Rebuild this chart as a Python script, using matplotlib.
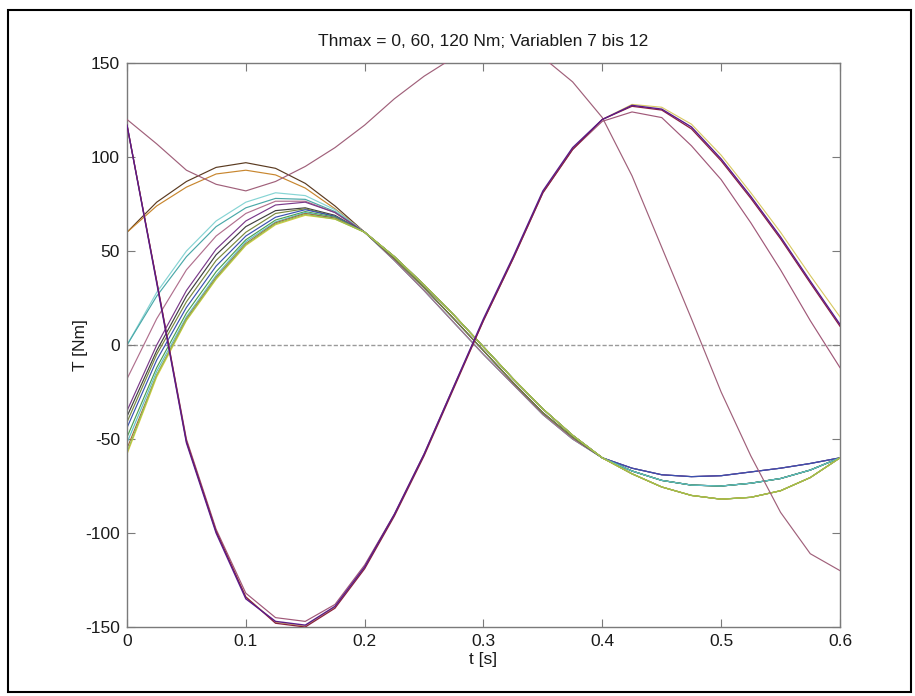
import matplotlib
matplotlib.use("Agg")
import matplotlib.pyplot as plt
from matplotlib.patches import Rectangle

plt.rcParams["font.family"] = ["Liberation Sans", "DejaVu Sans"]
plt.rcParams["axes.unicode_minus"] = False

# time grid [s]
t = [0.000, 0.025, 0.050, 0.075, 0.100, 0.125, 0.150, 0.175, 0.200,
     0.225, 0.250, 0.275, 0.300, 0.325, 0.350, 0.375, 0.400,
     0.425, 0.450, 0.475, 0.500, 0.525, 0.550, 0.575, 0.600]

# shared middle section 0.2 .. 0.4 s (three slightly different slopes)
mid_a = [60, 45, 29, 12, -5, -21, -37, -50, -60]
mid_b = [60, 46, 30.5, 14, -3, -20, -36, -49, -60]
mid_c = [60, 47, 32, 16, -1, -18, -34, -48, -60]

# end section 0.4 .. 0.6 s (three families)
end_u = [-60, -65.5, -69, -70, -69.5, -67.5, -65.5, -63, -60]
end_m = [-60, -67, -72, -74.5, -75, -73.5, -71, -66.5, -60]
end_l = [-60, -68.5, -75.5, -80, -82, -81, -77.5, -70.5, -60]

# start sections 0 .. 0.175 s of the torque curves [Nm]
start_cyan = [0, 28, 50, 66, 76, 81, 79.5, 72]
start_teal = [0, 26, 47, 63, 73, 78, 77.5, 71]
start_mauve = [-18, 14, 40, 58, 70, 76.5, 76.5, 70.5]
start_purple = [-35, 0, 29, 51, 66, 74.5, 76, 70.5]
start_black = [-38, -3, 26, 48, 63, 71.5, 73, 69]
start_olive = [-41, -5, 23, 45, 60, 70, 72.5, 68.5]
start_blue = [-44, -8, 20, 42, 58, 68, 72, 68.5]
start_green = [-49, -12, 17, 39, 56, 66.5, 71, 68]
start_cyan2 = [-52, -14, 15, 37, 55, 65.5, 70.5, 67.5]
start_brown = [-55, -16, 14, 36, 54, 65, 70, 67.5]
start_yellow = [-58, -17, 13, 35, 53, 64, 69, 67]
start_lime = [-57, -16, 13.5, 35.5, 53.5, 64.5, 69.5, 67]
start_orange_hi = [60, 76, 87, 94.5, 97, 94, 86, 74]
start_orange_lo = [60, 74, 84, 91, 93, 90.5, 83.5, 72.5]

# full curves
T_thmax120 = [120, 107, 93, 85.5, 82, 87, 95, 105, 117, 131, 143, 153, 159,
              160, 153, 140, 121, 90, 52, 14, -25, -59, -89, -111, -120]
T_swing_1 = [117, 33, -52, -100, -135, -147, -149, -139, -118, -90, -58, -22,
             14, 47, 82, 105, 120, 127.5, 125.5, 116, 99, 79, 57.5, 34, 11]
T_swing_2 = [117, 34, -51, -99, -134, -148, -150, -140, -119, -91, -59, -23,
             13, 46, 81, 104, 120, 127, 125, 115, 98, 78, 56.5, 33, 10]
T_swing_3 = [117, 33.5, -51.5, -99.5, -134, -147.5, -149.5, -139.5, -118.5,
             -90.5, -58.5, -22.5, 13.5, 46.5, 81.5, 104.5, 120, 128, 126.5,
             117.5, 101, 81, 60, 37, 15]
T_swing_4 = [117, 34, -50, -98, -132, -145, -147, -138, -117, -90, -58, -22,
             13, 46, 81, 104, 119, 124, 121, 106, 88, 65, 40, 13, -12]

bundle = [
    (start_orange_hi, mid_c, end_m, "#5a3a20"),
    (start_orange_lo, mid_c, end_l, "#c8862e"),
    (start_cyan, mid_a, end_u, "#86d4d4"),
    (start_teal, mid_a, end_m, "#4aa8a8"),
    (start_mauve, mid_a, end_u, "#b0708e"),
    (start_purple, mid_b, end_u, "#7a3a8a"),
    (start_black, mid_b, end_m, "#404040"),
    (start_olive, mid_b, end_l, "#7a8a40"),
    (start_blue, mid_c, end_u, "#3a50b0"),
    (start_green, mid_c, end_m, "#4aa050"),
    (start_cyan2, mid_c, end_m, "#60c0c8"),
    (start_brown, mid_c, end_l, "#a06a3a"),
    (start_yellow, mid_c, end_l, "#d8cc40"),
    (start_lime, mid_c, end_l, "#98c050"),
]

fig = plt.figure(figsize=(9.15, 6.96), dpi=100)
ax = fig.add_axes([0.1388, 0.0991, 0.7792, 0.8103])

ax.axhline(0, color="#9a9a9a", lw=1.0, ls=(0, (3, 1.5)), zorder=1)

for start, mid, end, col in bundle:
    ax.plot(t, start + mid + end[1:], color=col, lw=0.85, zorder=2)

ax.plot(t, T_thmax120, color="#a0607a", lw=0.85, zorder=3)
ax.plot(t, T_swing_4, color="#a05878", lw=0.85, zorder=3)
ax.plot(t, T_swing_3, color="#d8c860", lw=0.8, zorder=3)
ax.plot(t, T_swing_2, color="#8a2040", lw=0.9, zorder=3)
ax.plot(t, T_swing_1, color="#5a1a8a", lw=1.0, zorder=4)

ax.set_xlim(0, 0.6)
ax.set_ylim(-150, 150)
ax.set_xticks([0, 0.1, 0.2, 0.3, 0.4, 0.5, 0.6])
ax.set_xticklabels(["0", "0.1", "0.2", "0.3", "0.4", "0.5", "0.6"])
ax.set_yticks([-150, -100, -50, 0, 50, 100, 150])

for s in ax.spines.values():
    s.set_color("#7a7a7a")
    s.set_linewidth(1.0)
ax.tick_params(direction="in", length=6, width=0.8, color="#7a7a7a",
               top=True, right=True, labelsize=12.5, pad=5,
               labelcolor="#1a1a1a")

ax.set_xlabel("t [s]", fontsize=12.5, color="#1a1a1a", labelpad=2)
ax.set_ylabel("T [Nm]", fontsize=12.5, color="#1a1a1a", labelpad=-2)
ax.set_title("Thmax = 0, 60, 120 Nm; Variablen 7 bis 12", fontsize=12.5,
             color="#1a1a1a", pad=12)

# frame around the whole figure
fig.patches.append(Rectangle((8 / 915, 4 / 696), 903 / 915, 682 / 696,
                             transform=fig.transFigure, fill=False,
                             edgecolor="black", lw=1.5))

fig.savefig("out.png", dpi=100, facecolor="white")
